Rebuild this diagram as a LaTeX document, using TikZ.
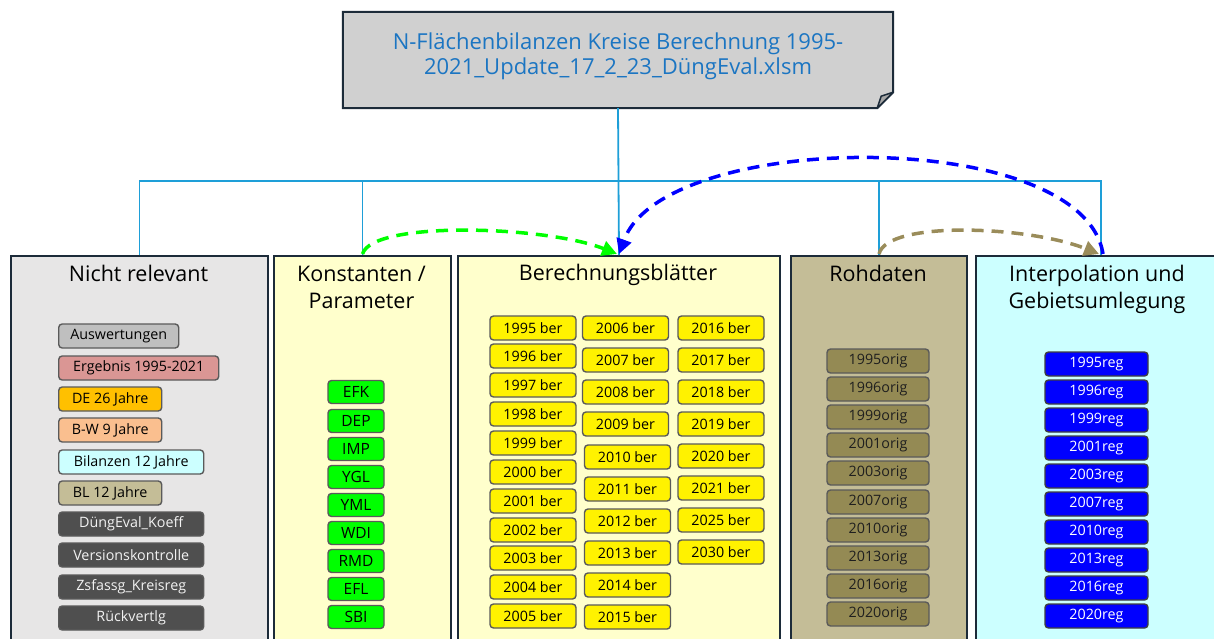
\documentclass[tikz,border=0pt]{standalone}
\usepackage{fontspec}
\setmainfont{Open Sans}
\usetikzlibrary{arrows.meta}
\definecolor{colborder}{HTML}{1C2B39}
\definecolor{smborder}{HTML}{5A5A5A}
\definecolor{nrfill}{HTML}{E7E6E6}
\definecolor{yelfill}{HTML}{FFFFCC}
\definecolor{rohfill}{HTML}{C4BD97}
\definecolor{ipfill}{HTML}{CCFFFF}
\definecolor{auswfill}{HTML}{BFBFBF}
\definecolor{ergfill}{HTML}{DA9694}
\definecolor{defill}{HTML}{FFC000}
\definecolor{bwfill}{HTML}{FABF8F}
\definecolor{darkfill}{HTML}{4F4F4F}
\definecolor{darktext}{HTML}{F2F2F2}
\definecolor{olive}{HTML}{948A54}
\definecolor{busblue}{HTML}{1E9FD8}
\definecolor{titlefill}{HTML}{D0D0D0}
\definecolor{foldfill}{HTML}{A6A6A6}
\definecolor{titleblue}{HTML}{1B75C2}
\definecolor{arrolive}{HTML}{9A8C5A}
\begin{document}
\begin{tikzpicture}[x=1pt,y=-1pt,
  col/.style={draw=colborder, line width=2pt, anchor=north west, inner sep=0pt, minimum height=420pt},
  coltitle/.style={font=\fontsize{21.5}{27}\selectfont, align=center, text=black, inner sep=0pt},
  sm/.style={draw=smborder, line width=1.4pt, rounded corners=3.5pt, minimum height=24pt, inner sep=0pt, font=\fontsize{14.3}{16}\selectfont},
  nrbox/.style={sm, anchor=west},
  konbox/.style={sm, fill=green, minimum width=56pt, minimum height=23pt, font=\fontsize{15.5}{17}\selectfont},
  berbox/.style={sm, fill=yellow, minimum width=86pt},
  rohbox/.style={sm, fill=olive, minimum width=102pt, text=black!88},
  ipbox/.style={sm, fill=blue, draw=black!75, minimum width=103pt, text=white},
  bus/.style={draw=busblue, line width=1.8pt},
  dasharr/.style={line width=3.5pt, dash pattern=on 12pt off 8pt},
]
\useasboundingbox (0,0) rectangle (1214,639);
\clip (0,0) rectangle (1214,639);

% title
\node[minimum width=550pt, minimum height=96pt, inner sep=0pt] (title) at (618,60) {};
\filldraw[fill=titlefill, draw=colborder, line width=2pt, line join=miter]
  (title.north west) -- (title.north east) -- ([yshift=16pt]title.south east)
  -- ([xshift=-16pt]title.south east) -- (title.south west) -- cycle;
\filldraw[fill=foldfill, draw=colborder, line width=1.5pt, line join=round]
  ([xshift=-16pt]title.south east) -- ([xshift=-12pt,yshift=12pt]title.south east)
  -- ([yshift=16pt]title.south east) -- cycle;
\node[font=\fontsize{22}{25.5}\selectfont, text=titleblue, align=center] (ttext) at (618,56.5)
  {N-Flächenbilanzen Kreise Berechnung 1995-\\2021\_Update\_17\_2\_23\_DüngEval.xlsm};

% columns
\node[col, fill=nrfill, minimum width=257pt] (nr) at (10,255) {};
\node[col, fill=yelfill, minimum width=177pt] (ko) at (273,255) {};
\node[col, fill=yelfill, minimum width=322pt] (ber) at (457,255) {};
\node[col, fill=rohfill, minimum width=176pt] (roh) at (790,255) {};
\node[col, fill=ipfill, minimum width=250pt] (ip) at (975,255) {};

% bus connectors
\coordinate (busy) at (0,181);
\draw[bus] (title.south) -- (ber.north);
\draw[bus] (nr.north) -- (nr.north |- busy) -- (ip.north |- busy) -- (ip.north);
\draw[bus] (ko.north) -- (ko.north |- busy);
\draw[bus] (roh.north) -- (roh.north |- busy);

% column titles
\node[coltitle] (nrt) at (138.5,273) {Nicht relevant};
\node[coltitle] (kot) at (361.5,287) {Konstanten /\\Parameter};
\node[coltitle] (bert) at (618,275) {Berechnungsblätter};
\node[coltitle] (roht) at (878,273) {Rohdaten};
\node[coltitle] (ipt) at (1097,289) {Interpolation und\\Gebietsumlegung};

% Nicht relevant items
\node[nrbox, fill=auswfill, minimum width=120pt] (n1) at (58,336) {Auswertungen};
\node[nrbox, fill=ergfill, minimum width=160pt] (n2) at (58,368) {Ergebnis 1995-2021};
\node[nrbox, fill=defill, minimum width=103pt] (n3) at (58,399) {DE 26 Jahre};
\node[nrbox, fill=bwfill, minimum width=103pt] (n4) at (58,430) {B-W 9 Jahre};
\node[nrbox, fill=ipfill, minimum width=145pt] (n5) at (58,462) {Bilanzen 12 Jahre};
\node[nrbox, fill=rohfill, minimum width=103pt] (n6) at (58,493) {BL 12 Jahre};
\node[nrbox, fill=darkfill, text=darktext, minimum width=145pt] (n7) at (58,524) {DüngEval\_Koeff};
\node[nrbox, fill=darkfill, text=darktext, minimum width=145pt] (n8) at (58,555) {Versionskontrolle};
\node[nrbox, fill=darkfill, text=darktext, minimum width=145pt] (n9) at (58,587) {Zsfassg\_Kreisreg};
\node[nrbox, fill=darkfill, text=darktext, minimum width=145pt] (n10) at (58,618) {Rückvertlg};

% Konstanten items
\foreach \k/\y in {EFK/392,DEP/421,IMP/449,YGL/477,YML/505,WDI/533,RMD/561,EFL/589,SBI/617}
  \node[konbox] (k\k) at (356,\y) {\k};

% Berechnungsblätter
\foreach \yr/\y in {1995/328,1996/356,1997/385,1998/414,1999/443,2000/472,2001/501,2002/530,2003/558,2004/587,2005/616}
  \node[berbox] (b\yr) at (533,\y) {\yr\ ber};
\foreach \yr/\y in {2006/328,2007/360,2008/392,2009/424}
  \node[berbox] (b\yr) at (625.5,\y) {\yr\ ber};
\foreach \yr/\y in {2010/457,2011/489,2012/521,2013/553,2014/585,2015/617}
  \node[berbox] (b\yr) at (627.5,\y) {\yr\ ber};
\foreach \yr/\y in {2016/328,2017/360,2018/392,2019/424,2020/456,2021/488,2025/520,2030/552}
  \node[berbox] (b\yr) at (721,\y) {\yr\ ber};

% Rohdaten
\foreach \yr/\y in {1995/361,1996/389,1999/417,2001/445,2003/473,2007/502,2010/530,2013/558,2016/586,2020/614}
  \node[rohbox] (r\yr) at (878,\y) {\yr orig};

% Interpolation
\foreach \yr/\y in {1995/364,1996/392,1999/420,2001/448,2003/476,2007/504,2010/532,2013/560,2016/588,2020/616}
  \node[ipbox] (i\yr) at (1096.5,\y) {\yr reg};

% dashed arrows
\draw[dasharr, draw=green, -{Triangle[length=15pt,width=15pt]}]
  ([yshift=1pt]ko.north) .. controls +(10,-34) and +(-70,-28) .. ([xshift=-2pt,yshift=1pt]ber.north);
\draw[dasharr, draw=arrolive, -{Triangle[length=15pt,width=15pt]}]
  ([yshift=1pt]roh.north) .. controls +(8,-34) and +(-70,-28) .. ([xshift=-2pt,yshift=1pt]ip.north);
\draw[dasharr, draw=blue, -{Triangle[length=15pt,width=15pt]}]
  ([xshift=2pt,yshift=1pt]ip.north) .. controls +(-20,-128) and +(45,-125) .. ([yshift=1pt]ber.north);
\end{tikzpicture}
\end{document}
